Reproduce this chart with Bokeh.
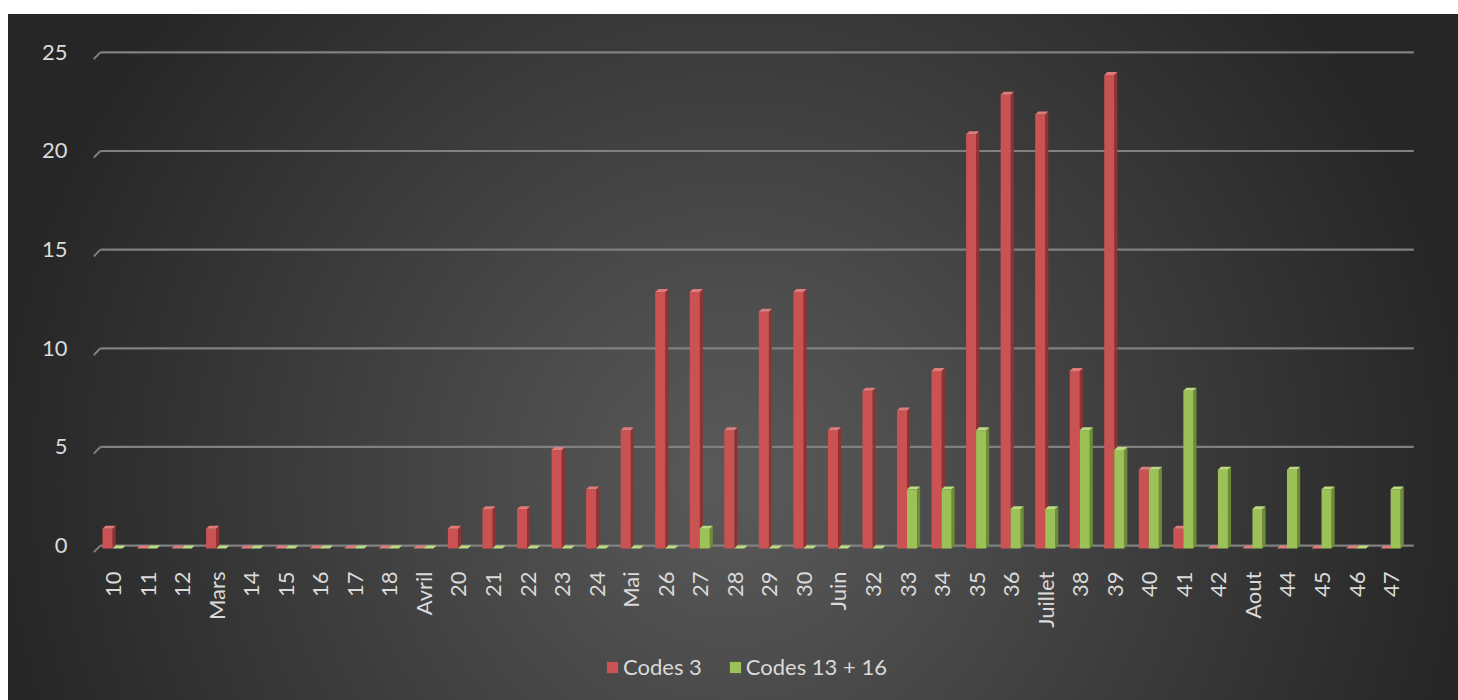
import numpy as np
from bokeh.plotting import figure
from bokeh.layouts import column
from bokeh.models import Legend, LegendItem, FixedTicker, Range1d
from bokeh.embed import file_html
from bokeh.resources import INLINE

categories = ["10", "11", "12", "Mars", "14", "15", "16", "17", "18", "Avril",
              "20", "21", "22", "23", "24", "Mai", "26", "27", "28", "29",
              "30", "Juin", "32", "33", "34", "35", "36", "Juillet", "38", "39",
              "40", "41", "42", "Aout", "44", "45", "46", "47"]
codes_3 = [1, 0, 0, 1, 0, 0, 0, 0, 0, 0,
           1, 2, 2, 5, 3, 6, 13, 13, 6, 12,
           13, 6, 8, 7, 9, 21, 23, 22, 9, 24,
           4, 1, 0, 0, 0, 0, 0, 0]
codes_13_16 = [0, 0, 0, 0, 0, 0, 0, 0, 0, 0,
               0, 0, 0, 0, 0, 0, 0, 1, 0, 0,
               0, 0, 0, 3, 3, 6, 2, 2, 6, 5,
               4, 8, 4, 2, 4, 3, 0, 3]
y_ticks = [0, 5, 10, 15, 20, 25]
series_names = ["Codes 3", "Codes 13 + 16"]

FONT = "Lato"
TXT = "#dadada"
FS = "22px"
W = 0.29     # front face width (category units)
DX = 0.09    # 3D depth offset (x)
DY = 0.15    # 3D depth offset (y)

p = figure(width=1450, height=620, output_backend="svg", toolbar_location=None,
           x_range=Range1d(-0.55, 37.72), y_range=Range1d(-0.35, 25.6),
           min_border_left=85, min_border_right=43, min_border_top=26,
           min_border_bottom=82)
p.background_fill_alpha = 0
p.border_fill_alpha = 0
p.outline_line_color = None
p.xgrid.visible = False
p.ygrid.visible = False

# gridlines (back wall) with 3D floor stubs
n = len(categories)
gx_end = n - 1 + 0.67
p.segment(x0=[-0.35] * len(y_ticks), y0=y_ticks, x1=[gx_end] * len(y_ticks), y1=y_ticks,
          line_color="#808080", line_width=2.2)
p.segment(x0=[-0.55] * len(y_ticks), y0=[t - 0.35 for t in y_ticks], x1=[-0.35] * len(y_ticks),
          y1=y_ticks, line_color="#808080", line_width=2)


def faces(vals, offset):
    fx, fy, sx, sy, tx, ty = [], [], [], [], [], []
    for i, v in enumerate(vals):
        l = i + offset
        r = l + W
        b = -DY
        t = v - DY
        fx.append([l, r, r, l]); fy.append([b, b, t, t])
        sx.append([r, r + DX, r + DX, r]); sy.append([b, 0, v, t])
        tx.append([l, l + DX, r + DX, r]); ty.append([t, v, v, t])
    return fx, fy, sx, sy, tx, ty


styles = [
    dict(vals=codes_3, offset=-W, front="#cb5252", top="#de7c7c", side="#913232"),
    dict(vals=codes_13_16, offset=0.0, front="#9bc157", top="#badb82", side="#6c8c38"),
]
for s in styles:
    fx, fy, sx, sy, tx, ty = faces(s["vals"], s["offset"])
    p.patches(xs=sx, ys=sy, fill_color=s["side"], line_color=None)
    p.patches(xs=fx, ys=fy, fill_color=s["front"], line_color=None)
    p.patches(xs=tx, ys=ty, fill_color=s["top"], line_color=None)

# axes
for ax in (p.xaxis[0], p.yaxis[0]):
    ax.axis_line_color = None
    ax.major_tick_line_color = None
    ax.minor_tick_line_color = None
    ax.major_label_text_color = TXT
    ax.major_label_text_font = FONT
    ax.major_label_text_font_size = FS

p.yaxis.ticker = FixedTicker(ticks=y_ticks)
p.yaxis.major_label_standoff = 20
p.xaxis.ticker = FixedTicker(ticks=list(range(n)))
p.xaxis.major_label_overrides = {i: c for i, c in enumerate(categories)}
p.xaxis.major_label_orientation = np.pi / 2
p.xaxis.major_label_standoff = 13

# legend strip (proxy swatches placed outside the visible range)
q = figure(width=1450, height=66, output_backend="svg", toolbar_location=None,
           x_range=Range1d(0, 1), y_range=Range1d(0, 1),
           x_axis_location=None, y_axis_location=None,
           min_border_left=0, min_border_right=0, min_border_top=0, min_border_bottom=0)
q.grid.visible = False
q.outline_line_color = None
q.background_fill_alpha = 0
q.border_fill_alpha = 0
lr = []
for s in styles:
    lr.append(q.quad(left=[-3], right=[-2], top=[-2], bottom=[-3],
                     fill_color=s["front"], line_color=None))
legend = Legend(items=[LegendItem(label=series_names[k], renderers=[lr[k]]) for k in range(2)],
                orientation="horizontal", location=(512, 20),
                border_line_color=None, background_fill_alpha=0,
                label_text_color=TXT, label_text_font=FONT, label_text_font_size=FS,
                label_height=25, glyph_width=14, glyph_height=14, label_standoff=4, spacing=26,
                padding=0, margin=0)
q.add_layout(legend, "center")

layout = column(p, q, spacing=0)
layout.margin = (14, 0, 0, 8)
layout.styles = {"background": "radial-gradient(circle 740px at 50% 68%, #5a5a5a 0%, #262626 100%)"}

open("out.html", "w").write(file_html(layout, INLINE))
